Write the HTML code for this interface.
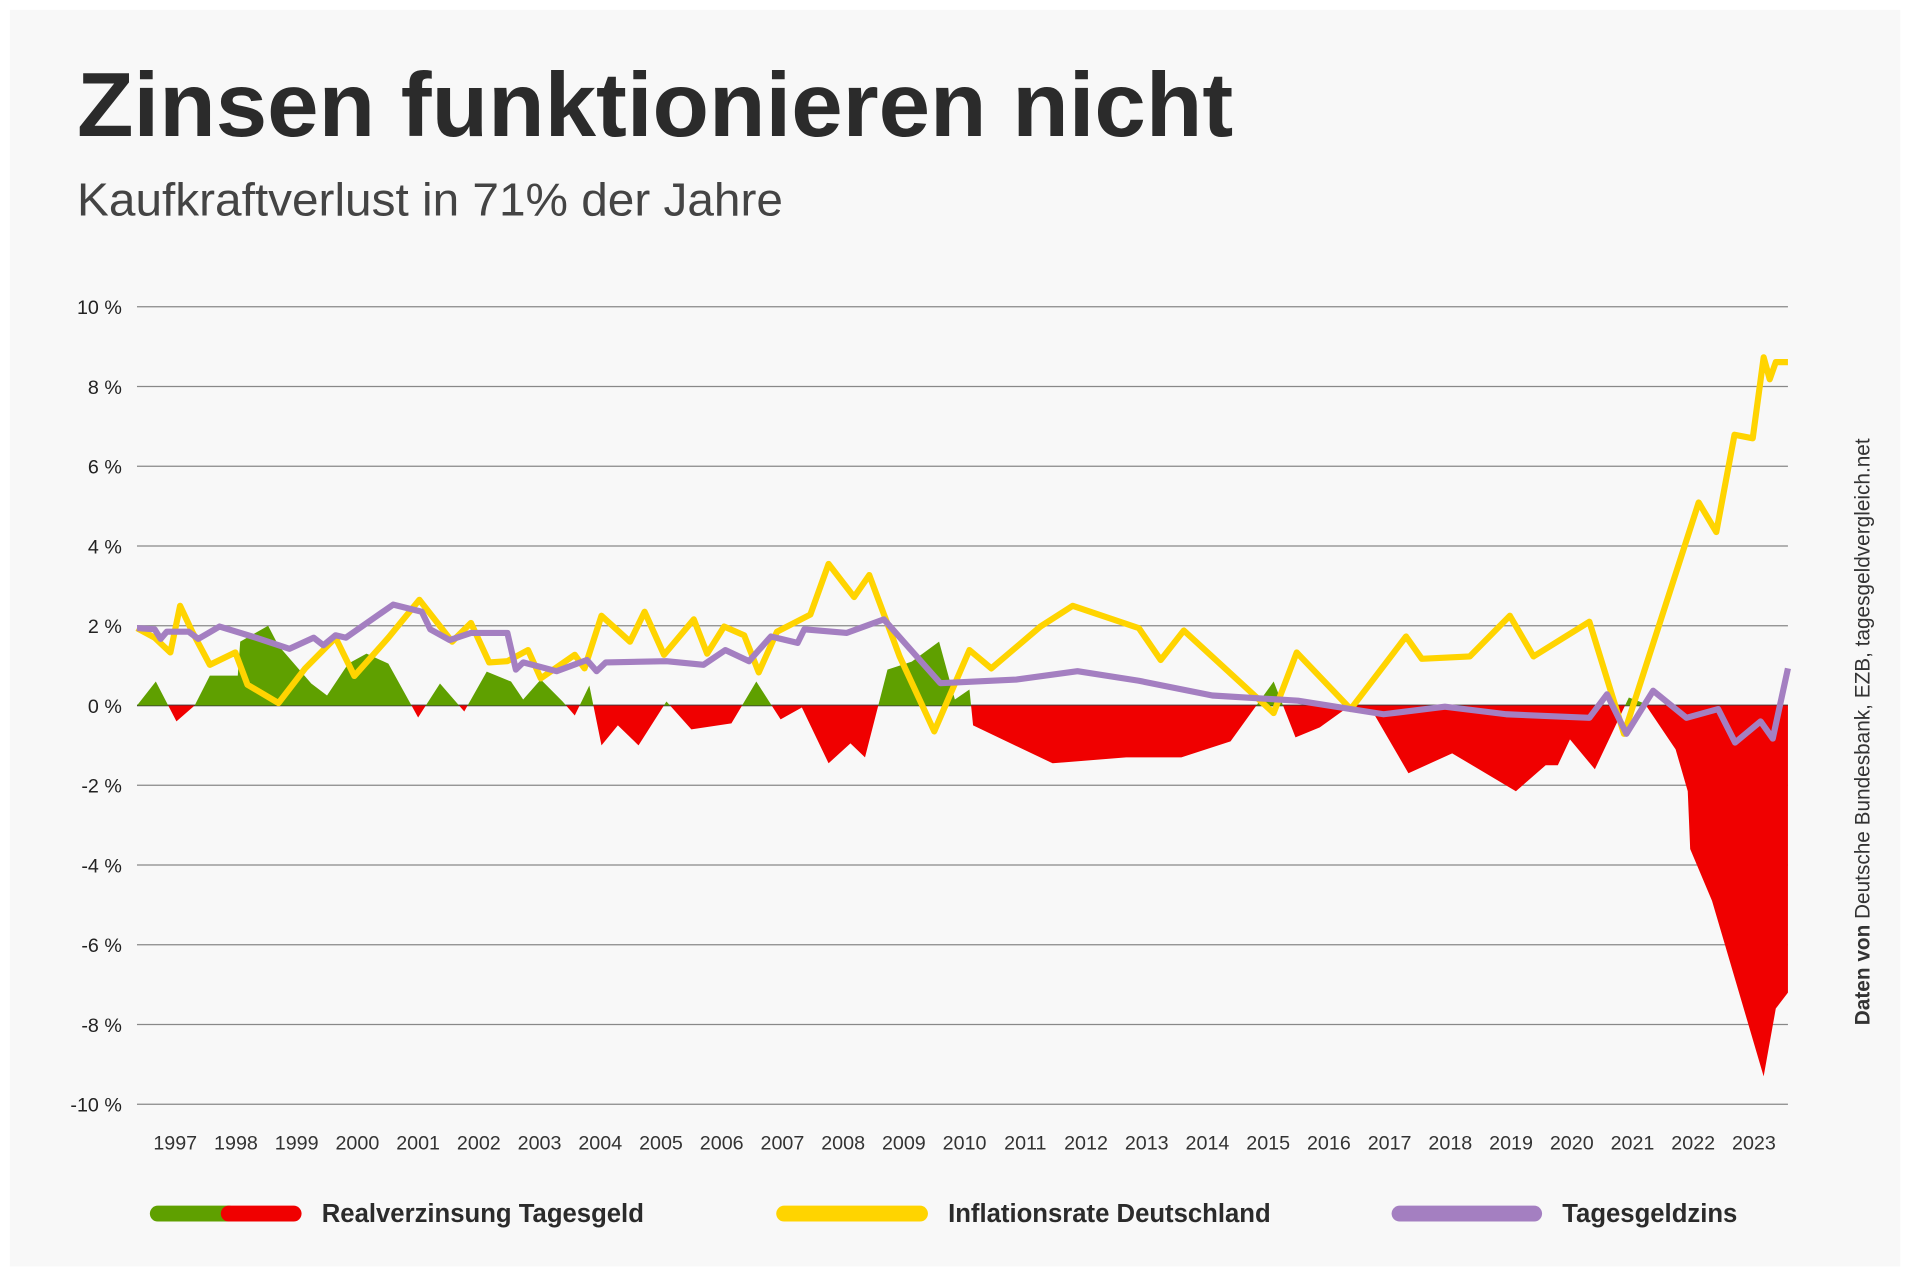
<!DOCTYPE html>
<html><head><meta charset="utf-8"><style>
html,body{margin:0;padding:0;background:#fff;}
svg{display:block;font-family:"Liberation Sans",sans-serif;}
</style></head><body>
<svg id="chart" width="1920" height="1288" viewBox="0 0 1560 1046.5" preserveAspectRatio="none" xmlns="http://www.w3.org/2000/svg">
<rect x="0" y="0" width="1560" height="1046.5" fill="#ffffff"/>
<rect x="8" y="8" width="1536" height="1021" fill="#f8f8f8"/>
<g transform="scale(0.994)">
<text x="63" y="111" font-size="74" font-weight="bold" fill="#2b2b2b" textLength="945" lengthAdjust="spacingAndGlyphs">Zinsen funktionieren nicht</text>
<text x="63" y="176" font-size="38" fill="#444" textLength="577" lengthAdjust="spacingAndGlyphs">Kaufkraftverlust in 71% der Jahre</text>
<text transform="translate(1528,838) rotate(-90)" font-size="17" fill="#333"><tspan font-weight="bold">Daten von</tspan> Deutsche Bundesbank, EZB, tagesgeldvergleich.net</text>
<g>
<g>
<line x1="129" y1="992" x2="187" y2="992" stroke="#5fa000" stroke-width="13" stroke-linecap="round"/>
<line x1="187" y1="992" x2="240" y2="992" stroke="#f00000" stroke-width="13" stroke-linecap="round"/>
<text x="263" y="999" font-size="21" font-weight="bold" fill="#2b2b2b">Realverzinsung Tagesgeld</text></g>
<g>
<line x1="641" y1="992" x2="752" y2="992" stroke="#ffd400" stroke-width="13" stroke-linecap="round"/>
<text x="775" y="999" font-size="21" font-weight="bold" fill="#2b2b2b">Inflationsrate Deutschland</text></g>
<g>
<line x1="1144" y1="992" x2="1254" y2="992" stroke="#a47fc1" stroke-width="13" stroke-linecap="round"/>
<text x="1277" y="999" font-size="21" font-weight="bold" fill="#2b2b2b">Tagesgeldzins</text></g>
</g>
</g>
<g id="grid"></g>
<defs>
<clipPath id="clipPos"><rect x="0" y="0" width="1560" height="573.2"/></clipPath>
<clipPath id="clipNeg"><rect x="0" y="573.2" width="1560" height="500"/></clipPath>
</defs>
<g id="marks"></g>
<g id="xticks"></g>
</svg>
<script>
const yTicks=[10,8,6,4,2,0,-2,-4,-6,-8,-10];
const years=[1997,1998,1999,2000,2001,2002,2003,2004,2005,2006,2007,2008,2009,2010,2011,2012,2013,2014,2015,2016,2017,2018,2019,2020,2021,2022,2023];
const inflT=[1996.39,1996.68,1996.94,1997.10,1997.30,1997.59,1998.01,1998.21,1998.72,1999.16,1999.66,1999.97,2000.53,2001.04,2001.58,2001.89,2002.19,2002.49,2002.83,2003.04,2003.60,2003.76,2004.04,2004.51,2004.75,2005.07,2005.56,2005.78,2006.06,2006.39,2006.63,2006.93,2007.48,2007.78,2008.20,2008.45,2008.95,2009.52,2010.10,2010.46,2011.27,2011.80,2012.89,2013.25,2013.63,2015.11,2015.49,2016.38,2017.29,2017.55,2018.34,2019.00,2019.39,2020.31,2020.88,2022.11,2022.40,2022.70,2023.00,2023.18,2023.28,2023.38,2023.58];
const inflV=[1.94,1.70,1.33,2.50,1.85,1.02,1.33,0.52,0.06,0.93,1.70,0.74,1.70,2.65,1.60,2.07,1.08,1.11,1.39,0.68,1.27,0.93,2.25,1.60,2.35,1.27,2.16,1.30,1.98,1.76,0.83,1.85,2.28,3.55,2.72,3.27,1.23,-0.65,1.39,0.93,1.98,2.50,1.94,1.14,1.88,-0.19,1.33,-0.09,1.73,1.17,1.23,2.25,1.23,2.10,-0.71,5.09,4.35,6.79,6.70,8.73,8.18,8.61,8.61];
const zinsT=[1996.39,1996.68,1996.78,1996.88,1997.24,1997.40,1997.75,1998.35,1998.90,1999.30,1999.46,1999.66,1999.83,2000.61,2001.08,2001.22,2001.54,2001.89,2002.49,2002.63,2002.75,2003.30,2003.80,2003.96,2004.11,2005.11,2005.72,2006.08,2006.47,2006.83,2007.27,2007.38,2008.08,2008.69,2009.62,2010.87,2011.88,2012.89,2014.10,2015.51,2016.92,2017.93,2018.94,2020.31,2020.60,2020.92,2021.36,2021.91,2022.43,2022.71,2023.13,2023.33,2023.58];
const zinsV=[1.94,1.91,1.67,1.85,1.85,1.67,1.98,1.70,1.42,1.70,1.51,1.76,1.70,2.53,2.35,1.91,1.64,1.82,1.82,0.90,1.08,0.86,1.14,0.86,1.08,1.11,1.02,1.39,1.11,1.73,1.57,1.91,1.82,2.16,0.56,0.65,0.86,0.62,0.25,0.12,-0.22,-0.03,-0.22,-0.31,0.28,-0.71,0.37,-0.31,-0.09,-0.93,-0.40,-0.83,0.93];
const realT=[1996.39,1996.70,1997.04,1997.34,1997.59,1998.05,1998.09,1998.55,1998.72,1999.26,1999.52,1999.87,2000.17,2000.53,2001.02,2001.38,2001.78,2002.15,2002.55,2002.75,2003.04,2003.40,2003.60,2003.84,2004.04,2004.31,2004.65,2005.11,2005.52,2006.18,2006.59,2006.99,2007.34,2007.78,2008.14,2008.38,2008.75,2009.15,2009.60,2009.86,2010.10,2010.16,2011.47,2012.68,2013.59,2014.40,2015.11,2015.47,2015.87,2016.28,2016.72,2017.33,2018.05,2019.10,2019.59,2019.79,2019.99,2020.40,2020.96,2021.22,2021.73,2021.93,2021.97,2022.33,2023.18,2023.38,2023.58];
const realV=[0,0.6,-0.4,0,0.75,0.75,1.6,2.0,1.5,0.55,0.25,1.05,1.3,1.05,-0.3,0.55,-0.15,0.85,0.6,0.15,0.65,0.1,-0.25,0.5,-1.0,-0.5,-1.0,0.1,-0.6,-0.45,0.6,-0.35,-0.05,-1.45,-0.95,-1.3,0.9,1.1,1.6,0.15,0.4,-0.5,-1.45,-1.3,-1.3,-0.9,0.6,-0.8,-0.55,-0.1,-0.1,-1.7,-1.2,-2.15,-1.5,-1.5,-0.85,-1.6,0.2,0.05,-1.1,-2.15,-3.6,-4.9,-9.3,-7.6,-7.2];

const X0=111.3,X1=1452.7,T0=1996.39,T1=2023.58,Y0=573.2,K=32.4;
const xS=t=>X0+(t-T0)/(T1-T0)*(X1-X0);
const yS=v=>Y0-v*K;
const NS='http://www.w3.org/2000/svg';
function mk(tag,attrs,parent){const e=document.createElementNS(NS,tag);for(const k in attrs)e.setAttribute(k,attrs[k]);parent.appendChild(e);return e;}
const grid=document.getElementById('grid');
yTicks.forEach(v=>{
  const l=mk('line',{x1:X0,x2:X1,y1:yS(v),y2:yS(v),stroke:v===0?'#333':'#888','stroke-width':v===0?1.3:1},grid);
  
  
  const t=mk('text',{x:99,y:yS(v)+6,'text-anchor':'end','font-size':16,fill:'#222'},grid);
  
  
  t.textContent=v+' %';
});
const xt=document.getElementById('xticks');
years.forEach(y=>{
  const t=mk('text',{x:xS(y+0.02),y:934,'text-anchor':'middle','font-size':16,fill:'#333'},xt);
  
  
  t.textContent=y;
});
const marks=document.getElementById('marks');
let ad='M'+xS(realT[0])+','+yS(0);
realT.forEach((t,i)=>{ad+=' L'+xS(t)+','+yS(realV[i]);});
ad+=' L'+xS(realT[realT.length-1])+','+yS(0)+' Z';
const pos=mk('path',{d:ad,fill:'#5fa000','clip-path':'url(#clipPos)'},marks);


const neg=mk('path',{d:ad,fill:'#f00000','clip-path':'url(#clipNeg)'},marks);


const line=(T,V)=>T.map((t,i)=>(i?'L':'M')+xS(t)+','+yS(V[i])).join(' ');
const inf=mk('path',{d:line(inflT,inflV),fill:'none',stroke:'#ffd400','stroke-width':5,'stroke-linejoin':'round'},marks);


const zl=mk('path',{d:line(zinsT,zinsV),fill:'none',stroke:'#a47fc1','stroke-width':5,'stroke-linejoin':'round'},marks);


</script>
</body></html>
